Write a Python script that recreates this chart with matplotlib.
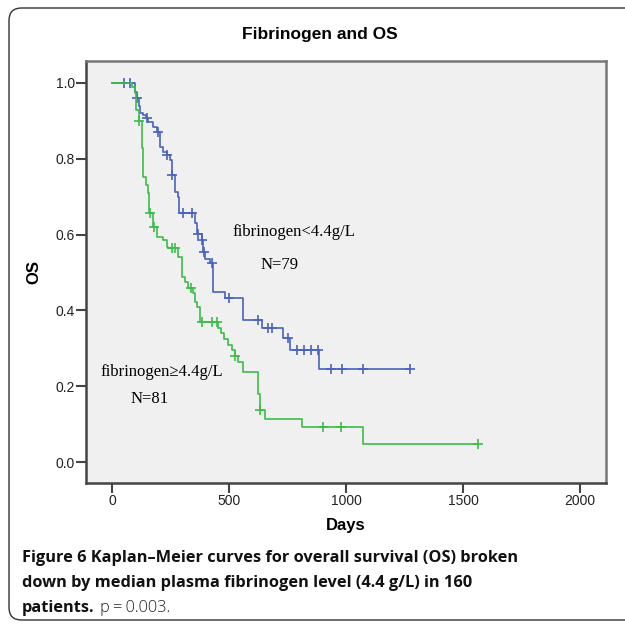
import numpy as np
import matplotlib
matplotlib.use("Agg")
import matplotlib.pyplot as plt
from matplotlib.patches import FancyBboxPatch

# Kaplan-Meier steps (days, survival after the step)
low_t = [0, 98, 108, 114, 120, 131, 145, 155, 177, 191, 205, 219, 234, 248, 255, 269, 283, 288,
         355, 362, 383, 390, 397, 419, 433, 483, 562, 641, 731, 761, 885]
low_s = [1.0, 0.977, 0.96, 0.94, 0.92, 0.915, 0.907, 0.898, 0.885, 0.871, 0.832, 0.819, 0.81, 0.797,
         0.757, 0.713, 0.70, 0.656, 0.63, 0.603, 0.586, 0.555, 0.537, 0.524, 0.449, 0.432, 0.375,
         0.353, 0.327, 0.295, 0.245]
low_cens = [51, 77, 108, 149, 198, 237, 255, 305, 340, 369, 383, 392, 426, 500, 624, 667, 684,
            752, 791, 820, 850, 880, 936, 983, 1073, 1274]

high_t = [0, 84, 98, 103, 117, 127, 134, 145, 155, 160, 174, 191, 219, 234, 241, 283, 298, 312,
          326, 347, 355, 365, 376, 454, 466, 480, 494, 511, 524, 540, 561, 626, 631, 654, 811, 1074]
high_s = [1.0, 0.99, 0.973, 0.929, 0.90, 0.828, 0.753, 0.731, 0.709, 0.656, 0.621, 0.594, 0.586,
          0.568, 0.564, 0.542, 0.489, 0.476, 0.458, 0.445, 0.423, 0.41, 0.37, 0.353, 0.34, 0.325,
          0.31, 0.296, 0.28, 0.265, 0.238, 0.18, 0.137, 0.115, 0.093, 0.047]
high_cens = [117, 162, 180, 255, 269, 336, 383, 426, 447, 526, 633, 903, 979, 1565]

xticks = [0, 500, 1000, 1500, 2000]
yticks = [0.0, 0.2, 0.4, 0.6, 0.8, 1.0]

blue = "#4a63bd"
green = "#3dbd48"

W, H = 625, 632
fig = plt.figure(figsize=(W / 100, H / 100), dpi=100)

# rounded frame around the figure
frame = FancyBboxPatch((9 / W, 12 / H), 700 / W, (H - 20) / H,
                       boxstyle="round,pad=0,rounding_size=0.02",
                       transform=fig.transFigure, fill=False, ec="#333333", lw=1.0)
fig.patches.append(frame)

ax = fig.add_axes([86 / W, 1 - 483 / H, (606 - 86) / W, (483 - 61) / H])
ax.set_facecolor("#f0f0f0")


def km_draw(t, s, cens, color):
    t_end = max(cens[-1], t[-1])
    tt = list(t) + [t_end]
    ss = list(s) + [s[-1]]
    ax.step(tt, ss, where="post", color=color, lw=1.2)
    idx = np.searchsorted(np.array(t), np.array(cens), side="right") - 1
    cs = np.array(s)[idx]
    ax.plot(cens, cs, ls="none", marker="+", ms=7, mew=1.2, color=color)


km_draw(low_t, low_s, low_cens, blue)
km_draw(high_t, high_s, high_cens, green)

ax.set_xlim(-111, 2111)
ax.set_ylim(-0.055, 1.058)
ax.set_xticks(xticks)
ax.set_xticklabels([str(v) for v in xticks])
ax.set_yticks(yticks)
ax.set_yticklabels(["%.1f" % v for v in yticks])
ax.tick_params(axis="both", length=7, width=1.5, color="#444444", labelsize=10,
               labelcolor="#222222", pad=1)
for lab in ax.get_xticklabels() + ax.get_yticklabels():
    lab.set_family("Liberation Sans")
for side in ["left", "bottom"]:
    ax.spines[side].set_color("#444444")
    ax.spines[side].set_linewidth(1.8)
for side in ["right", "top"]:
    ax.spines[side].set_color("#777777")
    ax.spines[side].set_linewidth(1.8)

ax.set_xlabel("Days", family="Liberation Sans", fontweight="bold", fontsize=12, labelpad=7)
ax.set_ylabel("OS", family="Liberation Sans", fontweight="bold", fontsize=12, labelpad=10)

fig.text(320 / W, 1 - 34 / H, "Fibrinogen and OS", family="Liberation Sans",
         fontweight="bold", fontsize=12.5, ha="center", va="center")

serif = "Liberation Serif"
ax.text(778, 0.607, "fibrinogen<4.4g/L", family=serif, fontsize=12, ha="center", va="center")
ax.text(716, 0.52, "N=79", family=serif, fontsize=12, ha="center", va="center")
ax.text(214, 0.237, "fibrinogen\u22654.4g/L", family=serif, fontsize=12, ha="center", va="center")
ax.text(160, 0.166, "N=81", family=serif, fontsize=12, ha="center", va="center")

# caption
cap = "Open Sans"
cs = 11.8
x0 = 22 / W
fig.text(x0, 1 - 558 / H, "Figure 6 Kaplan\u2013Meier curves for overall survival (OS) broken",
         family=cap, fontweight="bold", fontsize=cs, va="center", color="#111111")
fig.text(x0, 1 - 583 / H, "down by median plasma fibrinogen level (4.4 g/L) in 160",
         family=cap, fontweight="bold", fontsize=cs, va="center", color="#111111")
t3 = fig.text(x0, 1 - 608 / H, "patients.", family=cap, fontweight="bold", fontsize=cs,
              va="center", color="#111111")
r = fig.canvas.get_renderer()
bb = t3.get_window_extent(renderer=r)
fig.text(bb.x1 / W + 6 / W, 1 - 608 / H, "p\u2009=\u20090.003.", family=cap, fontweight="light",
         fontsize=cs, va="center", color="#222222")

fig.savefig("out.png", dpi=100)
